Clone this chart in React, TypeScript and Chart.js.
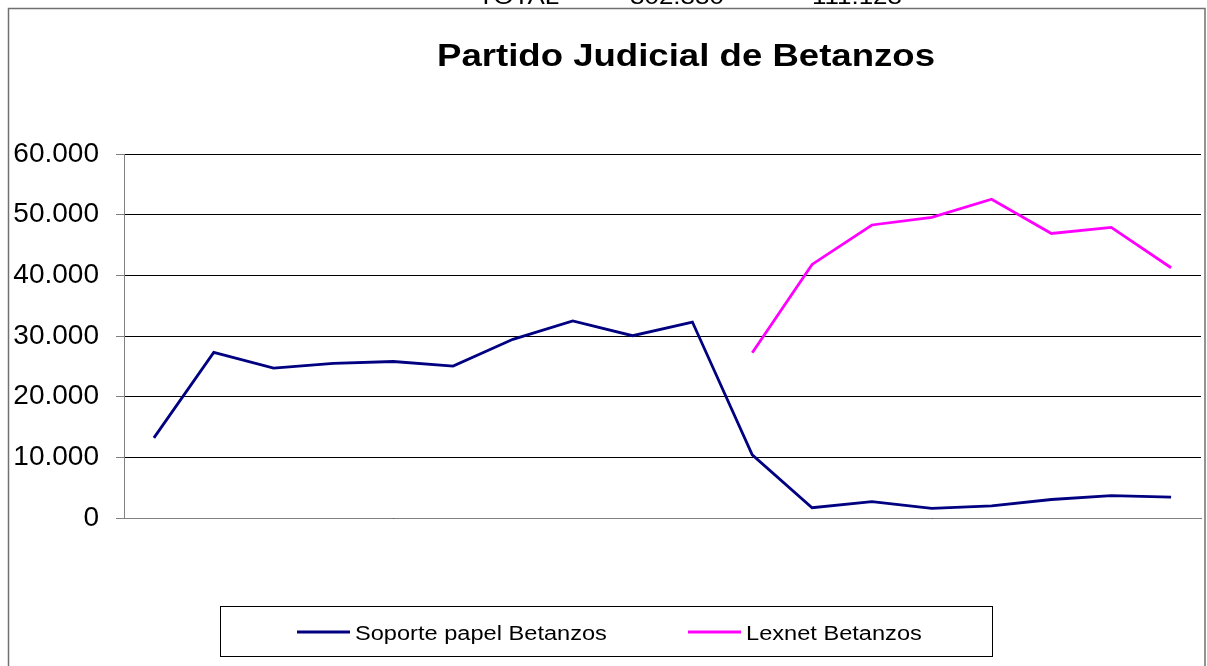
import React, { useEffect, useRef } from "react";
import { Chart, registerables } from "chart.js";

Chart.register(...registerables);

const categories = ["1", "2", "3", "4", "5", "6", "7", "8", "9", "10", "11", "12", "13", "14", "15", "16", "17", "18"];
const soportePapel = [13200, 27300, 24700, 25500, 25800, 25050, 29450, 32500, 30050, 32300, 10400, 1700, 2700, 1600, 2000, 3050, 3700, 3450];
const lexnet = [null, null, null, null, null, null, null, null, null, null, 27250, 41800, 48300, 49550, 52550, 46900, 47900, 41250];
const seriesNames = ["Soporte papel Betanzos", "Lexnet Betanzos"];
const seriesColors = ["#000080", "#FF00FF"];
const tickValues = [0, 10000, 20000, 30000, 40000, 50000, 60000];
const tickLabels = ["0", "10.000", "20.000", "30.000", "40.000", "50.000", "60.000"];
const chartTitle = "Partido Judicial de Betanzos";
const topTexts = ["TOTAL", "302.330", "111.123"];

const FONT = "'Liberation Sans', Arial, sans-serif";
const SX = 1.18;

function drawStretched(ctx: CanvasRenderingContext2D, text: string, x: number, y: number, font: string, align: CanvasTextAlign) {
  ctx.save();
  ctx.font = font;
  ctx.textAlign = align;
  ctx.textBaseline = "alphabetic";
  ctx.fillStyle = "#000";
  ctx.translate(x, y);
  ctx.scale(SX, 1);
  ctx.fillText(text, 0, 0);
  ctx.restore();
}

const decorPlugin = {
  id: "decor",
  beforeDraw(chart: any) {
    const ctx = chart.ctx as CanvasRenderingContext2D;
    ctx.save();
    ctx.fillStyle = "#fff";
    ctx.fillRect(0, 0, chart.width, chart.height);
    ctx.restore();
  },
  afterDraw(chart: any) {
    const ctx = chart.ctx as CanvasRenderingContext2D;
    // outer border
    ctx.save();
    ctx.strokeStyle = "#707070";
    ctx.lineWidth = 1.5;
    ctx.strokeRect(8.5, 8.5, 1196.5, 700);
    ctx.restore();
    // top cut-off text
    const topX = [478, 630, 812];
    topTexts.forEach((t, i) => drawStretched(ctx, t, topX[i], 4, `22px ${FONT}`, "left"));
    // title
    drawStretched(ctx, chartTitle, 686, 66, `bold 31px ${FONT}`, "center");
    // legend box
    ctx.save();
    ctx.strokeStyle = "#000";
    ctx.lineWidth = 1;
    ctx.strokeRect(220.5, 606.5, 772, 50);
    ctx.restore();
    const lineX = [297, 688];
    const textX = [355, 746];
    chart.data.datasets.forEach((ds: any, i: number) => {
      ctx.save();
      ctx.strokeStyle = ds.borderColor;
      ctx.lineWidth = 3;
      ctx.beginPath();
      ctx.moveTo(lineX[i], 632);
      ctx.lineTo(lineX[i] + 53, 632);
      ctx.stroke();
      ctx.restore();
      drawStretched(ctx, ds.label, textX[i], 640, `20px ${FONT}`, "left");
    });
  },
};

export default function App() {
  const canvasRef = useRef<HTMLCanvasElement | null>(null);

  useEffect(() => {
    if (!canvasRef.current) return;
    const chart = new Chart(canvasRef.current, {
      type: "line",
      data: {
        labels: categories,
        datasets: [
          {
            label: seriesNames[0],
            data: soportePapel,
            borderColor: seriesColors[0],
            backgroundColor: seriesColors[0],
            borderWidth: 2.8,
            pointRadius: 0,
            tension: 0,
          },
          {
            label: seriesNames[1],
            data: lexnet,
            borderColor: seriesColors[1],
            backgroundColor: seriesColors[1],
            borderWidth: 2.8,
            pointRadius: 0,
            tension: 0,
            spanGaps: false,
          },
        ],
      },
      options: {
        responsive: false,
        animation: false,
        layout: { padding: { left: 0, top: 154, right: 6, bottom: 148 } },
        plugins: {
          legend: { display: false },
          title: { display: false },
          tooltip: { enabled: false },
        },
        scales: {
          x: {
            type: "category",
            offset: true,
            grid: { display: false, drawTicks: false },
            border: { display: true, color: "#808080", width: 1 },
            ticks: { display: false },
            afterFit: (s: any) => {
              s.height = 0;
            },
          },
          y: {
            min: 0,
            max: 60000,
            afterBuildTicks: (s: any) => {
              s.ticks = tickValues.map((v) => ({ value: v }));
            },
            grid: { color: "#000", lineWidth: 1, tickLength: 8, tickColor: "#808080" },
            border: { display: true, color: "#808080", width: 1 },
            ticks: {
              padding: 17,
              color: "#000",
              font: { family: FONT, size: 28 },
              callback: (v: any) => {
                const i = tickValues.indexOf(Number(v));
                return i >= 0 ? tickLabels[i] : "";
              },
            },
            afterFit: (s: any) => {
              s.width = 124;
            },
          },
        },
      },
      plugins: [decorPlugin],
    });
    return () => chart.destroy();
  }, []);

  return (
    <div style={{ position: "fixed", left: 0, top: 0, width: 1207, height: 666, background: "#fff" }}>
      <canvas ref={canvasRef} width={1207} height={666} style={{ display: "block" }} />
    </div>
  );
}
